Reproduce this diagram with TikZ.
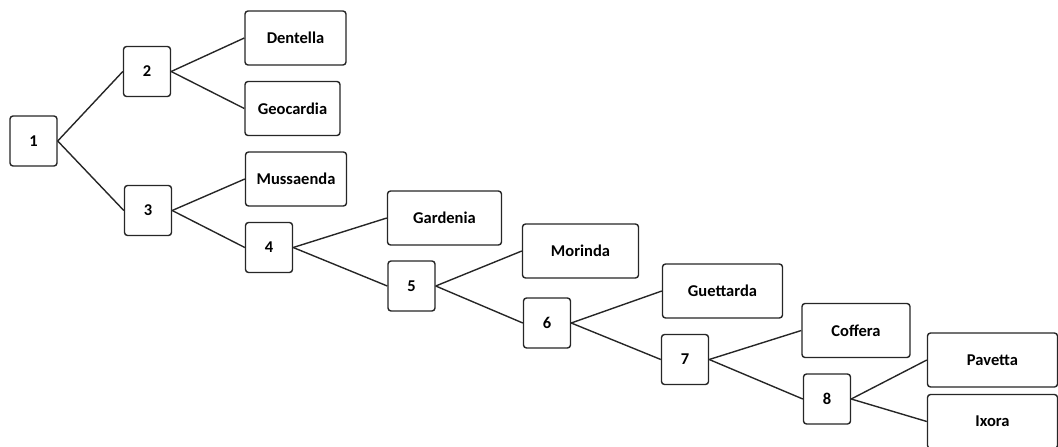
\documentclass[tikz,border=0pt]{standalone}
\usepackage{fontspec}
\setmainfont{Carlito}
\begin{document}
\begin{tikzpicture}[x=1pt,y=-1pt,
  box/.style={draw=black!85,line width=1.4pt,rounded corners=3pt,fill=white,inner sep=0pt,font=\bfseries\fontsize{16.5}{16.5}\selectfont},
  num/.style={box,minimum width=47pt,minimum height=50pt},
  leaf/.style={box,minimum height=54pt},
  edge/.style={draw=black!85,line width=1.4pt}]
\useasboundingbox (0,0) rectangle (1058,447);
\node[num] (n1) at (33.5,141) {1};
\node[num] (n2) at (147,71.5) {2};
\node[num] (n3) at (148,210.5) {3};
\node[num] (n4) at (269,247.5) {4};
\node[num] (n5) at (411.5,286) {5};
\node[num] (n6) at (547,323) {6};
\node[num] (n7) at (685,359.5) {7};
\node[num] (n8) at (827,399) {8};
\node[leaf,minimum width=101pt] (dent) at (295.5,38) {Dentella};
\node[leaf,minimum width=95pt] (geo) at (292.5,108.5) {Geocardia};
\node[leaf,minimum width=101pt] (muss) at (296,179) {Mussaenda};
\node[leaf,minimum width=114pt] (gard) at (444.5,218) {Gardenia};
\node[leaf,minimum width=116pt] (mor) at (580.5,251) {Morinda};
\node[leaf,minimum width=120pt] (guet) at (722.5,291) {Guettarda};
\node[leaf,minimum width=108pt] (cof) at (856,330.5) {Coffera};
\node[leaf,minimum width=130pt] (pav) at (992.5,360) {Pavetta};
\node[leaf,minimum width=130pt] (ix) at (992.5,421.5) {Ixora};
\draw[edge] (n1.east) -- (n2.west);
\draw[edge] (n1.east) -- (n3.west);
\draw[edge] (n2.east) -- (dent.west);
\draw[edge] (n2.east) -- (geo.west);
\draw[edge] (n3.east) -- (muss.west);
\draw[edge] (n3.east) -- (n4.west);
\draw[edge] (n4.east) -- (gard.west);
\draw[edge] (n4.east) -- (n5.west);
\draw[edge] (n5.east) -- (mor.west);
\draw[edge] (n5.east) -- (n6.west);
\draw[edge] (n6.east) -- (guet.west);
\draw[edge] (n6.east) -- (n7.west);
\draw[edge] (n7.east) -- (cof.west);
\draw[edge] (n7.east) -- (n8.west);
\draw[edge] (n8.east) -- (pav.west);
\draw[edge] (n8.east) -- (ix.west);
\end{tikzpicture}
\end{document}
